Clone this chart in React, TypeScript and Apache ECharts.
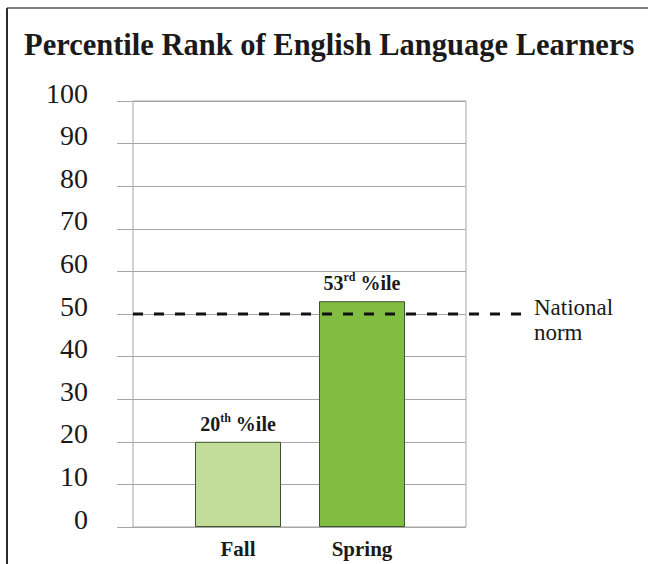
import React, { useEffect, useRef } from "react";
import * as echarts from "echarts";

const titleText = "Percentile Rank of English Language Learners";
const categories = ["Fall", "Spring"];
const percentiles = [20, 53];
const ordinalSuffix = ["th", "rd"];
const barColors = ["#c2dc99", "#80bd41"];
const yTicks = [0, 10, 20, 30, 40, 50, 60, 70, 80, 90, 100];
const nationalNorm = 50;
const normLabel = "National\nnorm";

const SERIF = "Liberation Serif";

export default function App() {
  const ref = useRef<HTMLDivElement>(null);
  useEffect(() => {
    document.body.style.margin = "0";
    if (!ref.current) return;
    const chart = echarts.init(ref.current, undefined, { renderer: "svg" });
    const option: any = {
      animation: false,
      backgroundColor: "#ffffff",
      title: {
        text: titleText,
        left: 19,
        top: 24,
        textStyle: {
          fontFamily: SERIF,
          fontSize: 30.5,
          fontWeight: "bold",
          color: "#1a1a1a",
        },
      },
      grid: [
        { left: 133, top: 101, width: 333, height: 426, show: true, borderColor: "#a6a6a6", borderWidth: 1, backgroundColor: "transparent" },
        { left: 176, top: 101, width: 248, height: 426 },
      ],
      xAxis: [
        { gridIndex: 0, type: "value", min: 0, max: 1, show: false },
        {
          gridIndex: 1,
          type: "category",
          data: categories,
          axisLine: { show: false },
          axisTick: { show: false },
          axisLabel: {
            fontFamily: SERIF,
            fontSize: 21,
            fontWeight: "bold",
            color: "#1a1a1a",
            margin: 11,
          },
        },
      ],
      yAxis: [
        {
          gridIndex: 0,
          type: "value",
          min: yTicks[0],
          max: yTicks[yTicks.length - 1],
          interval: 10,
          axisLine: { show: false },
          axisTick: { show: true, inside: false, length: 16, lineStyle: { color: "#a6a6a6" } },
          splitLine: { show: true, lineStyle: { color: "#a6a6a6", width: 1 } },
          axisLabel: {
            fontFamily: SERIF,
            fontSize: 28,
            color: "#1a1a1a",
            margin: 45,
            verticalAlign: "bottom",
            lineHeight: 16,
          },
        },
        { gridIndex: 1, type: "value", min: 0, max: 100, show: false },
      ],
      series: [
        {
          type: "bar",
          xAxisIndex: 1,
          yAxisIndex: 1,
          barWidth: 86,
          z: 2,
          data: percentiles.map((v, i) => ({
            value: v,
            itemStyle: { color: barColors[i], borderColor: "#3f5530", borderWidth: 1 },
            label: {
              show: true,
              position: "top",
              distance: 6,
              formatter: `{n|${v}}{s|${ordinalSuffix[i]}}{p| %ile}`,
              rich: {
                n: { fontFamily: SERIF, fontSize: 20, fontWeight: "bold", color: "#1a1a1a", lineHeight: 24 },
                s: { fontFamily: SERIF, fontSize: 12, fontWeight: "bold", color: "#1a1a1a", lineHeight: 13, verticalAlign: "top" },
                p: { fontFamily: SERIF, fontSize: 20, fontWeight: "bold", color: "#1a1a1a", lineHeight: 24 },
              },
            },
          })),
        },
      ],
    };
    chart.setOption(option);

    const yNorm = chart.convertToPixel({ yAxisIndex: 0 }, nationalNorm) as number;
    const xStart = chart.convertToPixel({ xAxisIndex: 0 }, 0) as number;
    const xEnd = chart.convertToPixel({ xAxisIndex: 0 }, 1.18) as number;
    chart.setOption({
      graphic: [
        { type: "line", shape: { x1: 7, y1: 8, x2: 7, y2: 564 }, style: { stroke: "#2a2a2a", lineWidth: 2 } },
        { type: "line", shape: { x1: 7, y1: 8, x2: 648, y2: 8 }, style: { stroke: "#555555", lineWidth: 1.5 } },
        {
          type: "line",
          z: 10,
          silent: true,
          shape: { x1: xStart, y1: yNorm, x2: xEnd, y2: yNorm },
          style: { stroke: "#111111", lineWidth: 3, lineDash: [10, 11] },
        },
        {
          type: "text",
          z: 10,
          x: xEnd + 8,
          y: yNorm - 19,
          style: {
            text: normLabel,
            fontFamily: SERIF,
            fontSize: 23,
            lineHeight: 25,
            fill: "#1a1a1a",
            align: "left",
            verticalAlign: "top",
          },
        },
      ],
    });
    return () => chart.dispose();
  }, []);
  return <div ref={ref} style={{ width: 648, height: 564 }} />;
}
